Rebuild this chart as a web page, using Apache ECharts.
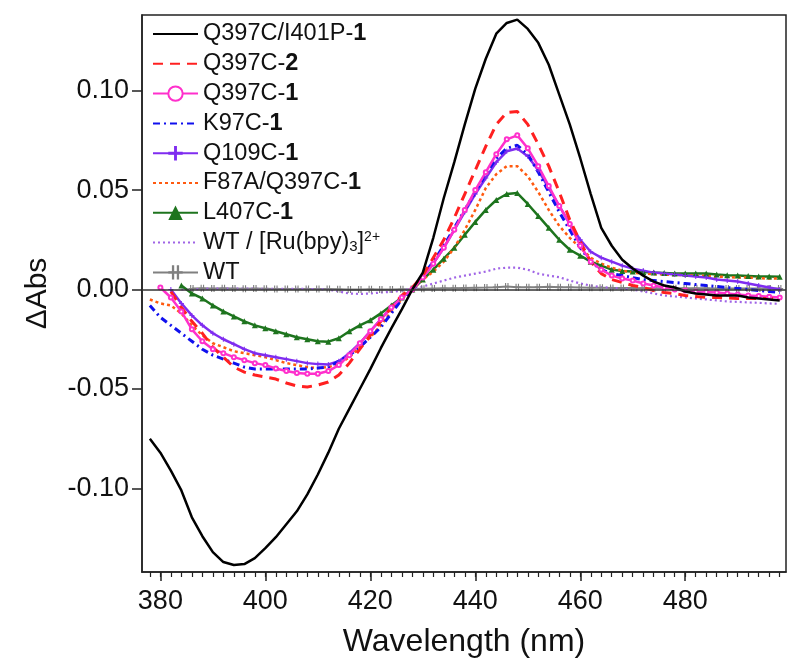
<!DOCTYPE html>
<html><head><meta charset="utf-8">
<script src="https://cdn.jsdelivr.net/npm/echarts@6/dist/echarts.min.js"></script>
<style>html,body{margin:0;padding:0;background:#fff}#c{width:800px;height:670px}</style>
</head><body><div id="c"></div>
<script>
// Wavelength grid (nm)
const wl = [];
for (let w = 378; w <= 498; w += 2) wl.push(w);

const seriesNames = ['Q397C/I401P-1','Q397C-2','Q397C-1','K97C-1','Q109C-1','F87A/Q397C-1','L407C-1','WT / [Ru(bpy)3]2+','WT'];

const q397c_i401p_1 = [-0.075,-0.082,-0.091,-0.101,-0.1145,-0.124,-0.132,-0.137,-0.1385,-0.138,-0.135,-0.130,-0.1245,-0.118,-0.1115,-0.103,-0.093,-0.082,-0.070,-0.060,-0.050,-0.040,-0.0295,-0.0195,-0.010,0.000,0.0085,0.026,0.046,0.064,0.083,0.101,0.116,0.1286,0.134,0.1357,0.131,0.124,0.113,0.098,0.083,0.066,0.048,0.031,0.022,0.015,0.0106,0.007,0.004,0.002,0.001,-0.001,-0.002,-0.0025,-0.003,-0.003,-0.003,-0.004,-0.0045,-0.005,-0.0055];
const q397c_2 = [null,null,-0.001,-0.009,-0.016,-0.022,-0.029,-0.034,-0.039,-0.0415,-0.043,-0.044,-0.045,-0.047,-0.0485,-0.049,-0.048,-0.0465,-0.043,-0.037,-0.030,-0.023,-0.016,-0.009,-0.003,0.001,0.007,0.016,0.025,0.036,0.048,0.060,0.072,0.083,0.089,0.0895,0.083,0.073,0.062,0.049,0.035,0.024,0.014,0.008,0.005,0.0035,0.002,0.001,-0.0005,-0.0015,-0.002,-0.003,-0.0035,-0.004,-0.004,-0.0042,-0.0045,-0.0045,-0.0045,-0.0045,-0.005];
const q397c_1 = [null,0.001,-0.004,-0.011,-0.020,-0.026,-0.030,-0.032,-0.034,-0.0355,-0.037,-0.038,-0.0397,-0.041,-0.042,-0.0423,-0.0423,-0.041,-0.038,-0.033,-0.027,-0.021,-0.015,-0.009,-0.004,0.000,0.006,0.013,0.021,0.030,0.040,0.050,0.059,0.068,0.0755,0.0775,0.071,0.062,0.052,0.042,0.033,0.022,0.014,0.010,0.007,0.0055,0.0045,0.003,0.002,0.001,0.000,-0.0005,-0.001,-0.0012,-0.0015,-0.002,-0.0025,-0.003,-0.0033,-0.0036,-0.004];
const k97c_1 = [-0.008,-0.014,-0.018,-0.022,-0.026,-0.030,-0.033,-0.035,-0.037,-0.039,-0.040,-0.040,-0.040,-0.040,-0.040,-0.040,-0.0395,-0.039,-0.036,-0.033,-0.029,-0.024,-0.019,-0.012,-0.005,0.000,0.007,0.014,0.022,0.031,0.040,0.049,0.058,0.066,0.071,0.0725,0.068,0.059,0.049,0.039,0.030,0.021,0.014,0.010,0.008,0.007,0.006,0.005,0.0045,0.004,0.0035,0.003,0.0025,0.002,0.0015,0.001,0.0005,0.000,-0.0005,-0.001,-0.0015];
const q109c_1 = [null,null,0.000,-0.007,-0.013,-0.018,-0.022,-0.025,-0.0275,-0.030,-0.032,-0.033,-0.034,-0.035,-0.036,-0.037,-0.0375,-0.0377,-0.036,-0.032,-0.027,-0.021,-0.015,-0.009,-0.004,0.000,0.006,0.013,0.021,0.030,0.039,0.048,0.056,0.064,0.0695,0.0709,0.067,0.060,0.051,0.042,0.033,0.025,0.019,0.016,0.014,0.012,0.0105,0.0095,0.0085,0.008,0.0075,0.007,0.0065,0.006,0.005,0.0045,0.004,0.003,0.002,0.001,0.000];
const f87a_q397c_1 = [-0.005,-0.007,-0.008,-0.012,-0.018,-0.023,-0.027,-0.029,-0.031,-0.032,-0.033,-0.034,-0.0355,-0.037,-0.038,-0.039,-0.0395,-0.039,-0.0375,-0.034,-0.029,-0.024,-0.018,-0.011,-0.005,0.000,0.005,0.009,0.014,0.021,0.030,0.040,0.051,0.058,0.062,0.062,0.057,0.049,0.040,0.032,0.026,0.021,0.016,0.013,0.011,0.0095,0.0085,0.008,0.0078,0.0075,0.0073,0.0072,0.007,0.0068,0.0065,0.0063,0.006,0.006,0.0057,0.0055,0.0055];
const l407c_1 = [null,null,null,0.002,-0.002,-0.0045,-0.008,-0.011,-0.0135,-0.016,-0.018,-0.0195,-0.021,-0.0225,-0.024,-0.025,-0.026,-0.0262,-0.0245,-0.021,-0.018,-0.0155,-0.012,-0.008,-0.004,0.000,0.005,0.010,0.0155,0.021,0.0275,0.034,0.040,0.045,0.048,0.0485,0.043,0.037,0.031,0.025,0.020,0.017,0.014,0.012,0.010,0.0093,0.009,0.0088,0.0085,0.0083,0.0081,0.008,0.008,0.008,0.0075,0.0072,0.007,0.0068,0.0066,0.0065,0.0064];
const wt_ru = [null,null,null,0.000,0.000,0.0003,0.0005,0.0005,0.0005,0.0005,0.0004,0.0003,0.0003,0.0003,0.0003,0.0003,0.0002,0.000,-0.001,-0.002,-0.0022,-0.002,-0.0015,-0.0012,-0.0005,0.0005,0.0015,0.003,0.0045,0.006,0.007,0.008,0.009,0.0105,0.011,0.011,0.010,0.008,0.007,0.0062,0.0045,0.003,0.002,0.0012,0.0008,0.0005,0.000,-0.001,-0.002,-0.003,-0.0035,-0.004,-0.0045,-0.005,-0.0055,-0.006,-0.0062,-0.0065,-0.0067,-0.007,-0.0072];
const wt = [null,null,null,null,0.0005,0.0006,0.0005,0.0006,0.0005,0.0004,0.0005,0.0004,0.0003,0.0003,0.0002,0.0003,0.0002,0.0002,0.0001,0.000,0.000,0.0001,0.000,0.000,0.0001,0.0002,0.0004,0.0005,0.0006,0.0007,0.0008,0.0009,0.001,0.0012,0.0015,0.0012,0.0011,0.0012,0.0014,0.0012,0.0011,0.001,0.0009,0.0009,0.0008,0.0008,0.0008,0.0007,0.0007,0.0007,0.0006,0.0006,0.0006,0.0006,0.0005,0.0005,0.0005,0.0005,0.0005,0.0005,0.0005];

const yTicks = [-0.10,-0.05,0.00,0.05,0.10];
const xMajor = [380,400,420,440,460,480];
const xMinor = [];
for (let w = 378; w <= 498; w += 2) xMinor.push(w);

function pts(vals){ return wl.map((w,i)=> vals[i]==null ? null : [w, vals[i]]).filter(p=>p); }

const FONT = 'Liberation Sans, Arial, sans-serif';
const plusPath = 'path://M4,0h2v10h-2z M0,4h10v2h-10z';
const hashPath = 'path://M2.5,0h1.6v10h-1.6z M5.9,0h1.6v10h-1.6z M0,4.2h10v1.6h-10z';

const chart = echarts.init(document.getElementById('c'), null, {renderer:'canvas'});
const LFS = 23.5;
const legendRich = {
  b:{fontSize:LFS,fontWeight:'bold',fontFamily:FONT,color:'#111'},
  sub:{fontSize:15,fontFamily:FONT,color:'#111',padding:[8,0,0,0]},
  sup:{fontSize:14,fontFamily:FONT,color:'#111',padding:[0,0,10,0]}
};
function legendFmt(n){
  switch(n){
    case 'Q397C/I401P-1': return 'Q397C/I401P-{b|1}';
    case 'Q397C-2': return 'Q397C-{b|2}';
    case 'Q397C-1': return 'Q397C-{b|1}';
    case 'K97C-1': return 'K97C-{b|1}';
    case 'Q109C-1': return 'Q109C-{b|1}';
    case 'F87A/Q397C-1': return 'F87A/Q397C-{b|1}';
    case 'L407C-1': return 'L407C-{b|1}';
    case 'WT / [Ru(bpy)3]2+': return 'WT / [Ru(bpy){sub|3}]{sup|2+}';
    default: return n;
  }
}
function line(name, vals, color, width, type, extra){
  return Object.assign({
    name, type:'line', data: pts(vals), symbol:'none', showAllSymbol:true,
    lineStyle:{color, width, type}, itemStyle:{color}, animation:false, z:2
  }, extra||{});
}
const series = [
  line(seriesNames[8], wt, '#808080', 2, 'solid', {symbol:hashPath, symbolSize:7, z:1}),
  line(seriesNames[7], wt_ru, '#a064e6', 2.2, [2,3], {z:1}),
  line(seriesNames[6], l407c_1, '#1e741e', 2.5, 'solid', {symbol:'triangle', symbolSize:6}),
  line(seriesNames[5], f87a_q397c_1, '#ff5a10', 2.5, [3,3]),
  line(seriesNames[4], q109c_1, '#7f2cf0', 2.5, 'solid', {symbol:plusPath, symbolSize:5}),
  line(seriesNames[3], k97c_1, '#1010ee', 3, [7,4,2,4]),
  line(seriesNames[2], q397c_1, '#ff30cc', 2.5, 'solid', {symbol:'emptyCircle', symbolSize:4}),
  line(seriesNames[1], q397c_2, '#ff2020', 3, [10,7]),
  line(seriesNames[0], q397c_i401p_1, '#000000', 2.5, 'solid', {z:3,
    markLine:{silent:true, symbol:'none', label:{show:false}, animation:false,
      lineStyle:{color:'#333', type:'solid', width:1.5}, data:[{yAxis:0}]}})
];

const noSymbol = new Set([seriesNames[0], seriesNames[1], seriesNames[3], seriesNames[5], seriesNames[7]]);
const legendData = seriesNames.map(n => noSymbol.has(n) ? {name:n, itemStyle:{opacity:0}} : {name:n});

chart.setOption({
  animation:false,
  backgroundColor:'#fff',
  textStyle:{fontFamily:FONT},
  grid:{left:142, top:15, right:14, bottom:98, show:true, borderColor:'#222', borderWidth:1.5, containLabel:false},
  legend:{
    data: legendData, orient:'vertical', left:147, top:17, itemWidth:45, itemHeight:18, itemGap:5.8,
    formatter: legendFmt,
    textStyle:{fontSize:LFS, fontFamily:FONT, color:'#111', rich:legendRich, padding:[0,0,0,0]},
    selectedMode:false
  },
  xAxis:[
    {type:'value', min:376.5, max:499.2, position:'bottom',
     name:'Wavelength (nm)', nameLocation:'middle', nameGap:54,
     nameTextStyle:{fontSize:32, fontFamily:FONT, color:'#111'},
     axisLine:{show:true, onZero:false, lineStyle:{color:'#222', width:1.5}},
     axisTick:{show:true, length:9, customValues:xMajor, lineStyle:{color:'#222', width:1.5}},
     axisLabel:{show:true, customValues:xMajor, fontSize:27, color:'#111', margin:16, fontFamily:FONT},
     splitLine:{show:false}},
    {type:'value', min:376.5, max:499.2, position:'bottom',
     axisLine:{show:false, onZero:false},
     axisTick:{show:true, length:5, customValues:xMinor, lineStyle:{color:'#222', width:1.2}},
     axisLabel:{show:false}, splitLine:{show:false}}
  ],
  yAxis:{type:'value', min:-0.142, max:0.138,
     name:'\u0394Abs', nameLocation:'middle', nameGap:89, nameRotate:90,
     nameTextStyle:{fontSize:30, fontFamily:FONT, color:'#111'},
     axisLine:{show:true, onZero:false, lineStyle:{color:'#222', width:1.5}},
     axisTick:{show:true, length:10, customValues:yTicks, lineStyle:{color:'#222', width:1.5}},
     axisLabel:{show:true, customValues:yTicks, fontSize:27, color:'#111', margin:13, fontFamily:FONT,
       formatter:v=>v.toFixed(2)},
     splitLine:{show:false}},
  series
});
</script></body></html>
